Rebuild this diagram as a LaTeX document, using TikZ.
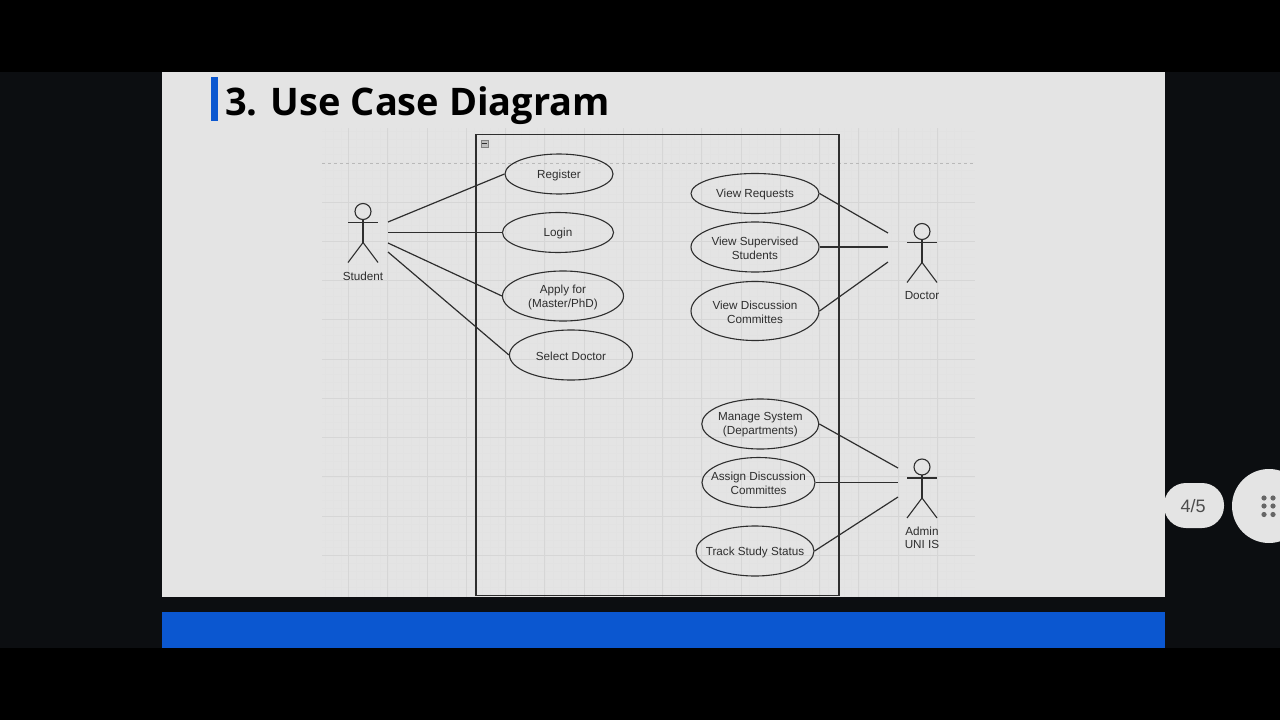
\documentclass[tikz,border=0pt]{standalone}
\usepackage{fontspec}
\setmainfont{Liberation Sans}
\newfontfamily\titlefont{Open Sans}
\usetikzlibrary{shapes.geometric}
\definecolor{slidebg}{HTML}{E4E4E4}
\definecolor{darkbg}{HTML}{0C0E11}
\definecolor{gridminor}{HTML}{E2E2E2}
\definecolor{gridmajor}{HTML}{D6D6D6}
\definecolor{ink}{HTML}{2E2E2E}
\definecolor{barblue}{HTML}{0B57D0}
\tikzset{
  usecase/.style={draw=ink,line width=1.1pt,ellipse,inner sep=0pt,minimum width=#1},
  casetext/.style={font=\fontsize{11.7}{14}\selectfont,align=center,text=ink,inner sep=0pt,yshift=-1pt},
  link/.style={draw=ink,line width=1.2pt},
  actorlabel/.style={font=\fontsize{11.7}{13.5}\selectfont,align=center,text=ink},
  stick/.style={draw=ink,line width=1.1pt},
}
\newcommand{\stickfigure}[2]{%
  \draw[stick] (#1,#2-11) circle (8);
  \draw[stick] (#1-15,#2) -- (#1+15,#2);
  \draw[stick] (#1,#2-3) -- (#1,#2+20);
  \draw[stick] (#1-15,#2+40) -- (#1,#2+20) -- (#1+15,#2+40);
}
\begin{document}
\begin{tikzpicture}[x=1pt,y=-1pt]
\useasboundingbox (0,0) rectangle (1280,720);
\clip (0,0) rectangle (1280,720);
\fill[black] (0,0) rectangle (1280,720);
\fill[darkbg] (0,72) rectangle (1280,648);
\fill[slidebg] (162,72) rectangle (1165,597);
\fill[barblue] (162,612) rectangle (1165,648);
% grid
\foreach \k in {0,...,81}{\draw[gridminor,line width=.4pt] (325+\k*7.86,128) -- (325+\k*7.86,597);}
\foreach \k in {0,...,58}{\draw[gridminor,line width=.4pt] (322,131+\k*7.86) -- (975,131+\k*7.86);}
\foreach \k in {0,...,15}{\draw[gridmajor,line width=.7pt] (348.5+\k*39.25,128) -- (348.5+\k*39.25,597);}
\foreach \k in {0,...,9}{\draw[gridmajor,line width=.7pt] (322,202+\k*39.25) -- (975,202+\k*39.25);}
\draw[gray!55,line width=.7pt,dashed] (322,163.5) -- (975,163.5);
% title
\fill[barblue] (211,77) rectangle (218,121);
\node[anchor=west,inner sep=0pt,text=black,font=\titlefont\bfseries\fontsize{38}{40}\selectfont] (title) at (225,105.5) {3. Use Case Diagram};
% system boundary
\node[draw=ink,line width=1.3pt,minimum width=363pt,minimum height=461pt,inner sep=0pt] (system) at (657.5,365) {};
\node[draw=gray,fill=gray!50,minimum size=7pt,inner sep=0pt] (collapse) at (484.5,143.5) {};
\draw[ink,line width=.8pt] (482,143.5) -- (487,143.5);
% use cases
\node[usecase=108pt,minimum height=40pt,label={[casetext]center:{Register}}] (register) at (559,174) {};
\node[usecase=111pt,minimum height=40pt,label={[casetext]center:{Login}}] (login) at (558,232.5) {};
\node[usecase=121pt,minimum height=50pt,label={[casetext]center:{Apply for\\(Master/PhD)}}] (apply) at (563,296) {};
\node[usecase=123pt,minimum height=50pt,label={[casetext]center:{Select Doctor}}] (select) at (571,355) {};
\node[usecase=128pt,minimum height=40pt,label={[casetext]center:{View Requests}}] (requests) at (755,193.5) {};
\node[usecase=128pt,minimum height=50pt,label={[casetext]center:{View Supervised\\Students}}] (supervised) at (755,247) {};
\node[usecase=128pt,minimum height=59pt,label={[casetext]center:{View Discussion\\Committes}}] (committes) at (755,311) {};
\node[usecase=117pt,minimum height=50pt,label={[casetext]center:{Manage System\\(Departments)}}] (manage) at (760.3,424) {};
\node[usecase=113pt,minimum height=50pt,label={[casetext]center:{Assign Discussion\\Committes}}] (assign) at (758.5,482.5) {};
\node[usecase=118pt,minimum height=50pt,label={[casetext]center:{Track Study Status}}] (track) at (755,551) {};
% actors
\stickfigure{363}{222.5}
\stickfigure{922}{242.5}
\stickfigure{922}{478}
\node[actorlabel] (student) at (363,276) {Student};
\node[actorlabel] (doctor) at (922,295.7) {Doctor};
\node[actorlabel] (admin) at (922,538) {Admin\\UNI IS};
% free ends
\coordinate (s1) at (388,222);
\coordinate (s2) at (388,232.5);
\coordinate (s3) at (388,243);
\coordinate (s4) at (388,252);
\coordinate (d1) at (888,233);
\coordinate (d2) at (888,247);
\coordinate (d3) at (888,262);
\coordinate (a1) at (898,468);
\coordinate (a2) at (898,482.5);
\coordinate (a3) at (898,497);
% connectors
\draw[link] (s1) -- (register.west);
\draw[link] (s2) -- (login.west);
\draw[link] (s3) -- (apply.west);
\draw[link] (s4) -- (select.west);
\draw[link] (requests.east) -- (d1);
\draw[link] (supervised.east) -- (d2);
\draw[link] (committes.east) -- (d3);
\draw[link] (manage.east) -- (a1);
\draw[link] (assign.east) -- (a2);
\draw[link] (track.east) -- (a3);
% page badge
\node[fill=slidebg,rounded corners=22pt,minimum width=60pt,minimum height=45pt,inner sep=0pt] (page) at (1194,505.5) {};
\node[text=black!70,inner sep=0pt,font=\fontsize{18}{20}\selectfont] (pagetext) at (1193,506) {4/5};
\node[circle,fill=slidebg,minimum size=74pt,inner sep=0pt] (menu) at (1269,506) {};
\foreach \dx in {1264,1273}{\foreach \dy in {498,506,514.5}{\fill[black!60] (\dx,\dy) circle (2.6);}}
\end{tikzpicture}
\end{document}
